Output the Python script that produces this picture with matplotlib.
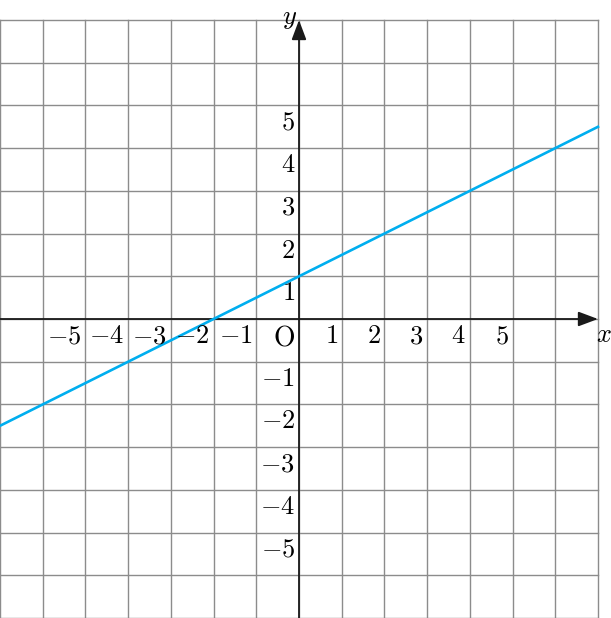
import matplotlib.pyplot as plt
import numpy as np

plt.rcParams['mathtext.fontset'] = 'cm'

# data
slope = 0.5
intercept = 1.0
x_ticks = [-5, -4, -3, -2, -1, 1, 2, 3, 4, 5]
y_ticks = [-5, -4, -3, -2, -1, 1, 2, 3, 4, 5]
grid_vals = np.arange(-7, 8)

W, H = 611, 618
s = 42.71  # pixels per unit
ox, oy = 299, 319

fig = plt.figure(figsize=(W / 100, H / 100), dpi=100)
ax = fig.add_axes([0, 0, 1, 1])
ax.set_xlim(-ox / s, (W - ox) / s)
ax.set_ylim(-(H - oy) / s, oy / s)
ax.axis('off')

# grid
for g in grid_vals:
    ax.plot([g, g], [-7, 7], color='#8c8c8c', lw=1.0, zorder=1)
    ax.plot([-7, 7], [g, g], color='#8c8c8c', lw=1.0, zorder=1)

# axes with arrows
arrow = dict(arrowstyle='-|>,head_length=0.8,head_width=0.3',
             color='#1a1a1a', lw=1.3, mutation_scale=15, shrinkA=0, shrinkB=0)
ax.annotate('', xy=(7.0, 0), xytext=(-7, 0), arrowprops=arrow, zorder=3)
ax.annotate('', xy=(0, 7.0), xytext=(0, -7), arrowprops=arrow, zorder=3)

# line
xs = np.array([-7.0, 7.0])
ax.plot(xs, slope * xs + intercept, color='#00aeef', lw=1.9, zorder=4)

fs = 19
dx = 4 / s
dy = 4 / s
for v in x_ticks:
    lab = r'$%d$' % v if v > 0 else r'$-%d$' % abs(v)
    ax.text(v - dx, -dy, lab, ha='right', va='top', fontsize=fs, zorder=5)
for v in y_ticks:
    lab = r'$%d$' % v if v > 0 else r'$-%d$' % abs(v)
    ax.text(-dx, v - dy, lab, ha='right', va='top', fontsize=fs, zorder=5)
ax.text(-dx, -dy, r'$\mathrm{O}$', ha='right', va='top', fontsize=fs + 1, zorder=5)

ax.text(6.95, -0.08, r'$x$', ha='left', va='top', fontsize=fs)
ax.text(-0.05, 7.05, r'$y$', ha='right', va='center', fontsize=fs)

fig.savefig('out.png', dpi=100)
